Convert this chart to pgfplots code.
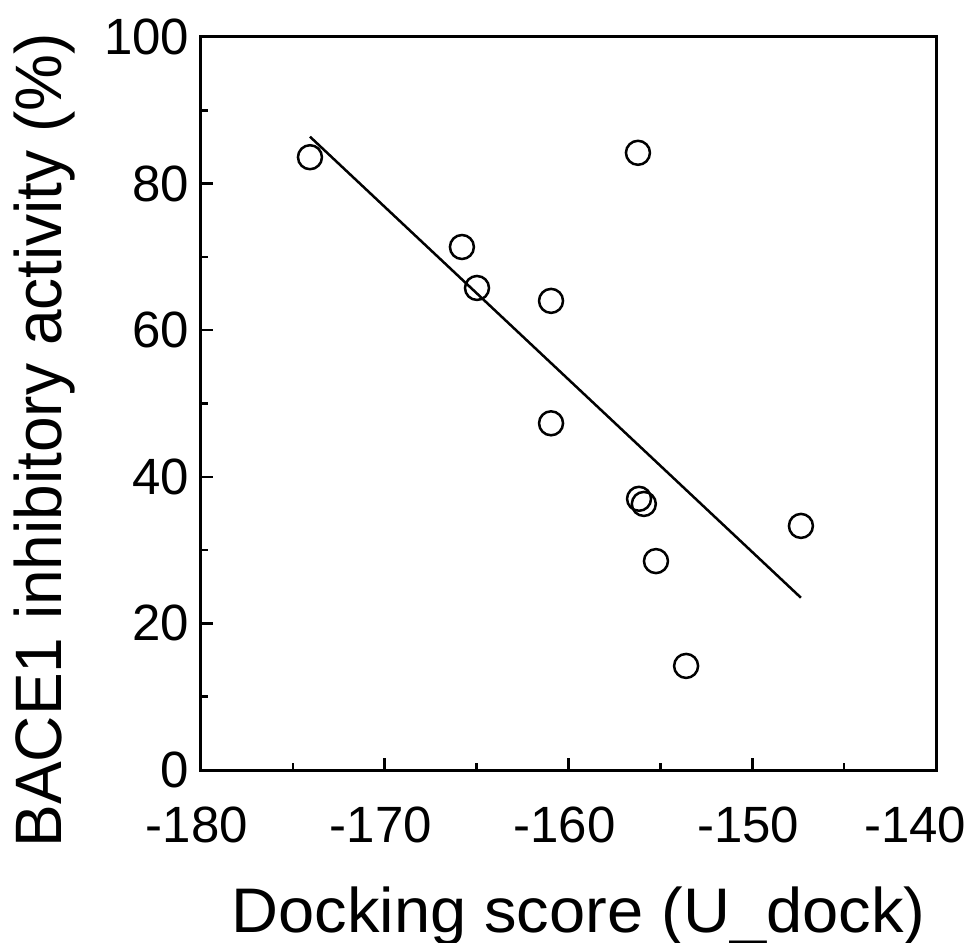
\documentclass[border=0pt]{standalone}
\usepackage{graphicx}
\usepackage{fontspec}
\setmainfont{Liberation Sans}
\usepackage{pgfplots}
\pgfplotsset{compat=1.18}
\begin{document}
\begin{tikzpicture}
\begin{axis}[
    name=ax,
    scale only axis,
    width=220.5pt,
    height=219.9pt,
    xmin=-180, xmax=-140,
    ymin=0, ymax=100,
    xtick={-180,-170,-160,-150,-140},
    xticklabels={-180,-170,-160,-150,{-140\kern10pt}},
    ytick={0,20,40,60,80,100},
    yticklabels={0,20,40,60,80,100},
    minor x tick num=1,
    minor y tick num=1,
    tick pos=left,
    tick align=inside,
    major tick length=3.6pt,
    minor tick length=2pt,
    axis line style={line width=0.9pt},
    every tick/.style={line width=0.75pt, black},
    tick label style={font=\fontsize{15.3}{16}\selectfont},
    xticklabel style={yshift=-7.6pt, xshift=-1.2pt},
    xlabel={\scalebox{1.032}[1]{Docking score (U\_dock)}},
    ylabel={\scalebox{0.975}[1]{BACE1 inhibitory activity (\%)}},
    xlabel style={font=\fontsize{18.9}{20}\selectfont,
        at={([yshift=-48.6pt]axis description cs:0.5136,0)}, anchor=base},
    ylabel style={font=\fontsize{19.7}{21}\selectfont,
        at={([xshift=-41.7pt]axis description cs:0,0.45)}, anchor=base},
]
\addplot[only marks, mark=o, mark size=3.6pt, mark options={line width=0.75pt}] coordinates {
(-174.07,83.6) (-165.8,71.35) (-164.98,65.76) (-160.95,64.0) (-160.95,47.3)
(-156.22,84.2) (-156.16,37.0) (-155.9,36.3) (-155.24,28.5) (-153.6,14.2) (-147.35,33.3)
};
\addplot[line width=0.75pt] coordinates {(-174.07,86.4) (-147.35,23.5)};
\end{axis}
\pgfresetboundingbox
\path[use as bounding box] ([xshift=-60.3pt,yshift=-51.9pt]ax.south west)
    rectangle ([xshift=12.9pt,yshift=11.1pt]ax.north east);
\end{tikzpicture}
\end{document}
